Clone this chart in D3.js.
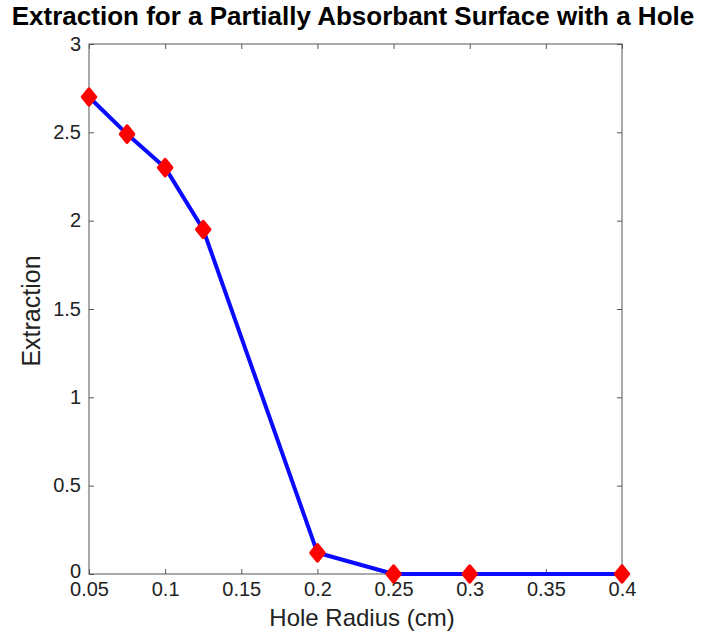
<!DOCTYPE html>
<html>
<head>
<meta charset="utf-8">
<script src="https://cdn.jsdelivr.net/npm/d3@7"></script>
<style>
  body { margin: 0; background: #fff; }
  svg { font-family: "Liberation Sans", Arial, sans-serif; }
</style>
</head>
<body>
<svg id="chart" width="701" height="636"></svg>
<script>
// hole radius (cm) vs extraction
var radius = [0.05, 0.075, 0.1, 0.125, 0.2, 0.25, 0.3, 0.4];
var extraction = [2.70, 2.49, 2.30, 1.95, 0.12, 0.0, 0.0, 0.0];
var xTicks = [0.05, 0.1, 0.15, 0.2, 0.25, 0.3, 0.35, 0.4];
var yTicks = [0, 0.5, 1, 1.5, 2, 2.5, 3];

var mLeft = 89, mRight = 622, mTop = 44, mBottom = 574;
var svg = d3.select('#chart');

var x = d3.scaleLinear().domain([0.05, 0.4]).range([mLeft, mRight]);
var y = d3.scaleLinear().domain([0, 3]).range([mBottom, mTop]);

var fmt = function(d){ return String(d); };

// box
svg.append('rect')
    .attr('x', mLeft).attr('y', mTop)
    .attr('width', mRight - mLeft).attr('height', mBottom - mTop)
    .attr('fill', 'none').attr('stroke', '#555').attr('stroke-width', 1);

// ticks pointing in, on all four sides
var gx = svg.append('g').attr('transform', 'translate(0,' + mBottom + ')')
    .call(d3.axisBottom(x).tickValues(xTicks).tickFormat(fmt).tickSizeInner(-5).tickSizeOuter(0).tickPadding(8));
var gxt = svg.append('g').attr('transform', 'translate(0,' + mTop + ')')
    .call(d3.axisTop(x).tickValues(xTicks).tickFormat('').tickSizeInner(-5).tickSizeOuter(0));
var gy = svg.append('g').attr('transform', 'translate(' + mLeft + ',0)')
    .call(d3.axisLeft(y).tickValues(yTicks).tickFormat(fmt).tickSizeInner(-5).tickSizeOuter(0).tickPadding(8));
var gyr = svg.append('g').attr('transform', 'translate(' + mRight + ',0)')
    .call(d3.axisRight(y).tickValues(yTicks).tickFormat('').tickSizeInner(-5).tickSizeOuter(0));

[gx, gxt, gy, gyr].forEach(function(g){
    g.select('.domain').remove();
    g.selectAll('line').attr('stroke', '#555');
    g.selectAll('text').attr('fill', '#222').style('font-size', '20px');
});
gy.selectAll('text').attr('dy', '0.3em');
// lift the bottom y label a little so it clears 0.05
gy.selectAll('.tick').filter(function(d){ return d === 0; }).select('text').attr('dy', '0.15em');

// data line
var pts = radius.map(function(r, i){ return [r, extraction[i]]; });
svg.append('path')
    .datum(pts)
    .attr('fill', 'none')
    .attr('stroke', '#0a0aff')
    .attr('stroke-width', 4)
    .attr('stroke-linejoin', 'round')
    .attr('d', d3.line().x(function(d){ return x(d[0]); }).y(function(d){ return y(d[1]); }));

// diamond markers
svg.selectAll('path.mark')
    .data(pts)
    .enter()
    .append('path')
    .attr('class', 'mark')
    .attr('transform', function(d){ return 'translate(' + x(d[0]) + ',' + y(d[1]) + ')'; })
    .attr('d', 'M0,-8 L6.5,0 L0,8 L-6.5,0 Z')
    .attr('fill', '#ff0000')
    .attr('stroke', '#ff0000')
    .attr('stroke-width', 3.5)
    .attr('stroke-linejoin', 'round');

// title and labels
svg.append('text')
    .attr('x', 353).attr('y', 25)
    .attr('text-anchor', 'middle')
    .style('font-size', '26px').style('font-weight', 'bold')
    .text('Extraction for a Partially Absorbant Surface with a Hole');

svg.append('text')
    .attr('x', 362).attr('y', 626)
    .attr('text-anchor', 'middle')
    .style('font-size', '24px')
    .attr('fill', '#222')
    .text('Hole Radius (cm)');

svg.append('text')
    .attr('transform', 'translate(40,' + ((mTop + mBottom) / 2 + 2) + ') rotate(-90)')
    .attr('text-anchor', 'middle')
    .style('font-size', '25px')
    .attr('fill', '#222')
    .text('Extraction');
</script>
</body>
</html>
